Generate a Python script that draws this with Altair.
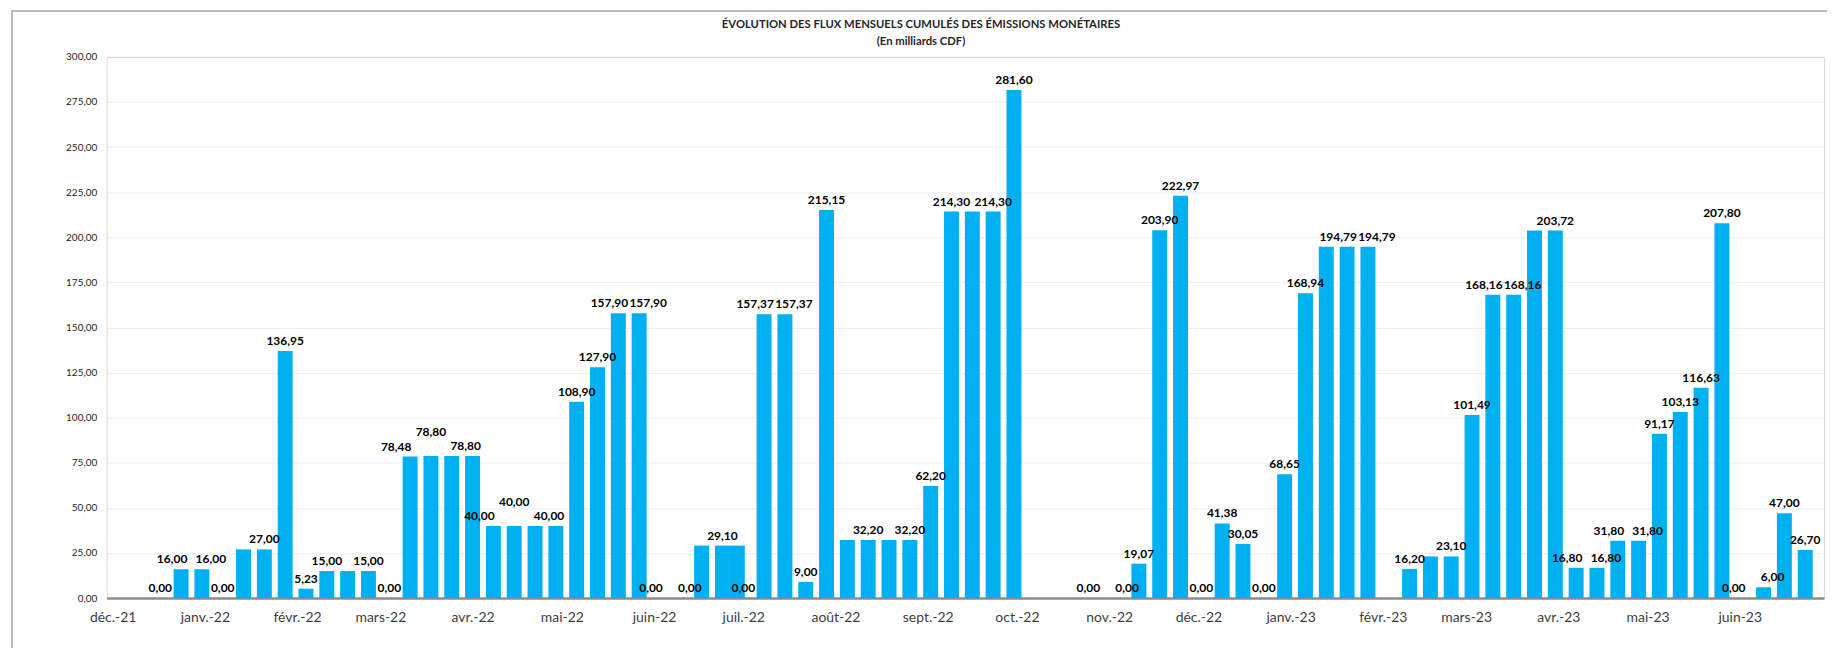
import altair as alt
import pandas as pd

# Weekly observation dates (Fridays; a few weeks are missing in the source)
dates = [
    "2021-12-17", "2021-12-24", "2021-12-31",
    "2022-01-07", "2022-01-14", "2022-01-21", "2022-01-28",
    "2022-02-04", "2022-02-11", "2022-02-18", "2022-02-25",
    "2022-03-04", "2022-03-11", "2022-03-18", "2022-03-25",
    "2022-04-01", "2022-04-08", "2022-04-15", "2022-04-22", "2022-04-29",
    "2022-05-06", "2022-05-13", "2022-05-20", "2022-05-27",
    "2022-06-03", "2022-06-10", "2022-06-17", "2022-06-24", "2022-06-29",
    "2022-07-01", "2022-07-08", "2022-07-15", "2022-07-22", "2022-07-29",
    "2022-08-05", "2022-08-12", "2022-08-19", "2022-08-26",
    "2022-09-02", "2022-09-09", "2022-09-16", "2022-09-23", "2022-09-30",
    "2022-10-28", "2022-11-04", "2022-11-11", "2022-11-18", "2022-11-25",
    "2022-12-02", "2022-12-09", "2022-12-16", "2022-12-23", "2022-12-30",
    "2023-01-06", "2023-01-13", "2023-01-20", "2023-01-27",
    "2023-02-10", "2023-02-17", "2023-02-24",
    "2023-03-03", "2023-03-10", "2023-03-17", "2023-03-24", "2023-03-31",
    "2023-04-07", "2023-04-14", "2023-04-21", "2023-04-28",
    "2023-05-05", "2023-05-12", "2023-05-19", "2023-05-26",
    "2023-06-02", "2023-06-09", "2023-06-16", "2023-06-23",
]

# Cumulative monthly flows (billions CDF)
values = [
    0.00, 16.00, 16.00,
    0.00, 27.00, 27.00, 136.95,
    5.23, 15.00, 15.00, 15.00,
    0.00, 78.48, 78.80, 78.80,
    78.80, 40.00, 40.00, 40.00, 40.00,
    108.90, 127.90, 157.90, 157.90,
    0.00, 0.00, 29.10, 29.10, 29.10,
    0.00, 157.37, 157.37, 9.00, 215.15,
    32.20, 32.20, 32.20, 32.20,
    62.20, 214.30, 214.30, 214.30, 281.60,
    0.00, 0.00, 19.07, 203.90, 222.97,
    0.00, 41.38, 30.05, 0.00, 68.65,
    168.94, 194.79, 194.79, 194.79,
    16.20, 23.10, 23.10,
    101.49, 168.16, 168.16, 203.72, 203.72,
    16.80, 16.80, 31.80, 31.80,
    91.17, 103.13, 116.63, 207.80,
    0.00, 6.00, 47.00, 26.70,
]

# Whether the data label of each bar is visible in the source
show_label = [
    True, True, True,
    True, False, True, True,
    True, True, False, True,
    True, True, True, True,
    False, True, True, True, False,
    True, True, True, True,
    True, True, False, True, False,
    True, True, True, True, True,
    False, True, False, True,
    True, True, False, True, True,
    True, True, True, True, True,
    True, True, True, True, True,
    True, False, True, True,
    True, False, True,
    True, True, True, False, True,
    True, True, True, True,
    True, True, True, True,
    True, True, True, True,
]

y_ticks = [0, 25, 50, 75, 100, 125, 150, 175, 200, 225, 250, 275, 300]
title_lines = ["ÉVOLUTION DES FLUX MENSUELS CUMULÉS DES ÉMISSIONS MONÉTAIRES",
               "(En milliards CDF)"]

df = pd.DataFrame({"date": dates, "value": values, "show": show_label})
df["label"] = df["value"].map(lambda v: f"{v:.2f}".replace(".", ","))

# Spread labels of neighbouring bars that would collide (like the manual
# placement in the source): pairs go left/right, triples left/up/right.
ts = pd.to_datetime(df["date"])
clusters, cur = [], [0]
for j in range(1, len(df)):
    close = ((ts[j] - ts[j - 1]).days <= 8 and df["show"][j] and df["show"][j - 1]
             and abs(df["value"][j] - df["value"][j - 1]) < 8)
    if close:
        cur.append(j)
    else:
        clusters.append(cur)
        cur = [j]
clusters.append(cur)
dx = [0] * len(df)
dy = [0] * len(df)
for c in clusters:
    if len(c) == 2:
        dx[c[0]], dx[c[1]] = -9, 9
    elif len(c) >= 3:
        dx[c[0]], dy[c[1]], dx[c[-1]] = -14, -14, 14
df["dx"] = dx
df["dy"] = dy
lab_df = df[df["show"]].copy()

W, H = 1723, 543
FONT = "Lato"

x_scale = alt.Scale(
    type="utc",
    domain=[
        alt.DateTime(year=2021, month=11, date=30, hours=16, utc=True),
        alt.DateTime(year=2023, month=6, date=27, hours=15, minutes=36, utc=True),
    ],
)
y_scale = alt.Scale(domain=[0, 300], nice=False)

month_expr = ("['janv.','févr.','mars','avr.','mai','juin','juil.','août','sept.','oct.','nov.','déc.']"
              "[utcmonth(datum.value)] + '-' + utcFormat(datum.value, '%y')")

x_axis = alt.Axis(
    title=None,
    tickCount=alt.TimeIntervalStep(interval="month", step=1),
    labelExpr=month_expr,
    ticks=False,
    grid=False,
    domainColor="#8C8C8C",
    domainWidth=2.5,
    labelFont=FONT,
    labelFontSize=14,
    labelColor="#404040",
    labelPadding=12,
    labelAngle=0,
    labelOverlap=False,
    labelFlush=False,
)
y_axis = alt.Axis(
    title=None,
    values=y_ticks,
    labelExpr="replace(format(datum.value, '.2f'), '.', ',')",
    ticks=False,
    domain=False,
    grid=True,
    gridColor="#B9C3E6",
    gridOpacity=0.3,
    labelFont=FONT,
    labelFontSize=10,
    labelColor="#262626",
    labelPadding=10,
)

one = pd.DataFrame({"k": [0]})

border = alt.Chart(one).mark_rect(
    fill="transparent", stroke="#A6A6A6", strokeWidth=1.5
).encode(
    x=alt.value(-95), x2=alt.value(W + 300), y=alt.value(-46), y2=alt.value(H + 300)
)

bars = alt.Chart(df).mark_bar(size=15, color="#00B0F0").encode(
    x=alt.X("date:T", scale=x_scale, axis=x_axis),
    y=alt.Y("value:Q", scale=y_scale, axis=y_axis),
)

label_layers = []
for (ox, oy), grp in lab_df.groupby(["dx", "dy"]):
    label_layers.append(
        alt.Chart(grp).mark_text(
            font=FONT, fontWeight="bold", fontSize=12, baseline="bottom",
            dx=int(ox), dy=-3 + int(oy), color="#000000"
        ).encode(
            x=alt.X("date:T", scale=x_scale),
            y=alt.Y("value:Q", scale=y_scale),
            text="label:N",
        )
    )

t1 = alt.Chart(one).mark_text(
    text=title_lines[0], font=FONT, fontWeight="bold", fontSize=11.3, color="#262626"
).encode(x=alt.value(817), y=alt.value(-32))
t2 = alt.Chart(one).mark_text(
    text=title_lines[1], font=FONT, fontWeight="bold", fontSize=11.3, color="#262626"
).encode(x=alt.value(817), y=alt.value(-14.5))

chart = alt.layer(border, bars, *label_layers, t1, t2).properties(
    width=W,
    height=H,
    padding={"left": 99, "top": 48, "right": 3, "bottom": 49},
    autosize=alt.AutoSizeParams(type="none"),
).configure_view(
    fill="#C9D5F3", stroke="#6F6F6F", strokeWidth=1.5
).configure(background="white")

chart.save("out.html", embed_options={"renderer": "svg", "actions": False})
